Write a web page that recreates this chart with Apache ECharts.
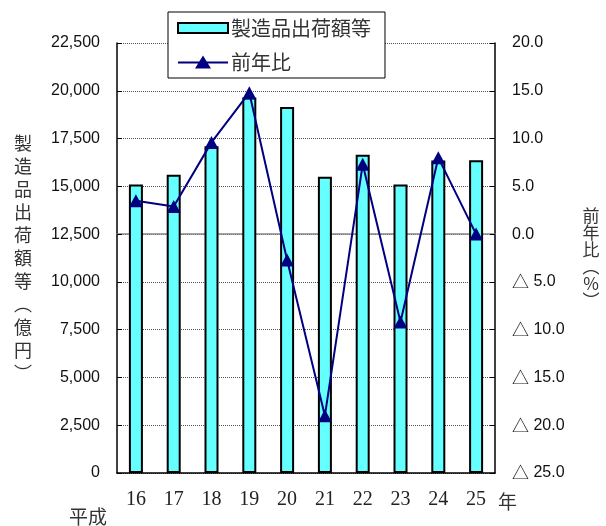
<!DOCTYPE html>
<html>
<head>
<meta charset="utf-8">
<script src="https://cdn.jsdelivr.net/npm/echarts@6/dist/echarts.min.js"></script>
<style>
  html, body { margin: 0; padding: 0; background: #fff; }
  #chart { width: 606px; height: 526px; }
</style>
</head>
<body>
<div id="chart"></div>
<script>
// 平成16年〜25年
var years = ['16', '17', '18', '19', '20', '21', '22', '23', '24', '25'];
// 製造品出荷額等（億円）
var shipments = [15100, 15600, 17100, 19650, 19150, 15500, 16650, 15100, 16350, 16370];
// 前年比（%）
var yoy = [3.5, 2.9, 9.6, 14.8, -2.7, -19.0, 7.3, -9.2, 8.0, 0.0];

var jpFont = '"Noto Sans CJK JP", sans-serif';
var numFont = '"Liberation Sans", Arial, sans-serif';
var myChart = echarts.init(document.getElementById('chart'));

var option = {
    animation: false,
    backgroundColor: '#fff',
    grid: { left: 117, right: 111, top: 43, bottom: 53 },
    legend: {
        left: 168,
        top: 12,
        orient: 'vertical',
        backgroundColor: '#fff',
        borderColor: '#000',
        borderWidth: 1,
        padding: [6, 14, 6, 9],
        itemWidth: 50,
        itemHeight: 13,
        itemGap: 14,
        textStyle: { fontFamily: jpFont, fontSize: 20, color: '#333', lineHeight: 20, padding: [0, 0, 0, -2] },
        data: [
            { name: '製造品出荷額等', icon: 'path://M0,1.5H50V11.5H0Z' },
            { name: '前年比', icon: 'path://M0,6H21.3L25,0L28.7,6H50V8H29.9L33,13H17L20.1,8H0Z' }
        ],
        z: 10
    },
    xAxis: [{
        type: 'category',
        data: years,
        axisLine: { lineStyle: { color: '#000', width: 1.5 } },
        axisTick: { inside: true, length: 5, lineStyle: { color: '#000' } },
        axisLabel: { margin: 17, fontFamily: '"Liberation Serif", serif', fontSize: 20, color: '#222' }
    }, {
        type: 'category',
        data: years,
        position: 'top',
        axisLine: { lineStyle: { color: '#888', width: 1.5 } },
        axisTick: { show: false },
        axisLabel: { show: false }
    }],
    yAxis: [{
        type: 'value',
        min: 0,
        max: 22500,
        interval: 2500,
        name: '製\n造\n品\n出\n荷\n額\n等\n︵\n億\n円\n︶',
        nameLocation: 'middle',
        nameRotate: 0,
        nameGap: 94,
        nameTextStyle: { fontFamily: jpFont, fontSize: 18, color: '#333', lineHeight: 23, align: 'center', padding: [0, 0, 26, 0] },
        axisLine: { show: true, lineStyle: { color: '#000', width: 1.5 } },
        axisTick: { show: true, inside: true, length: 5, lineStyle: { color: '#000' } },
        axisLabel: {
            margin: 17,
            fontFamily: numFont,
            fontSize: 16,
            color: '#111',
            formatter: function (v) { return v.toLocaleString('en-US'); }
        },
        splitLine: { show: true, lineStyle: { color: '#555', type: 'dotted', width: 1 } }
    }, {
        type: 'value',
        min: -25,
        max: 20,
        interval: 5,
        name: '前\n年\n比\n︵\n%\n︶',
        nameLocation: 'middle',
        nameRotate: 0,
        nameGap: 96,
        nameTextStyle: { fontFamily: jpFont, fontSize: 17, color: '#333', lineHeight: 17, align: 'center', padding: [0, 0, 44, 0] },
        axisLine: { show: true, lineStyle: { color: '#000', width: 1.5 } },
        axisTick: { show: true, inside: true, length: 5, lineStyle: { color: '#000' } },
        axisLabel: {
            margin: 17,
            fontFamily: numFont,
            fontSize: 16,
            color: '#111',
            formatter: function (v) {
                return v < 0 ? '{tri|△}' + ' ' + Math.abs(v).toFixed(1) : v.toFixed(1);
            },
            rich: {
                tri: { fontFamily: jpFont, fontSize: 17, color: '#111' }
            }
        },
        splitLine: { show: false }
    }],
    graphic: [
        { type: 'text', left: 498, top: 492, style: { text: '年', fontFamily: jpFont, fontSize: 19, fill: '#333' } },
        { type: 'text', left: 69, top: 507, style: { text: '平成', fontFamily: jpFont, fontSize: 19, fill: '#333' } }
    ],
    series: [{
        name: '製造品出荷額等',
        type: 'bar',
        data: shipments,
        barWidth: 14,
        itemStyle: { color: '#66FFFF', borderColor: '#000', borderWidth: 2 }
    }, {
        name: '前年比',
        type: 'line',
        yAxisIndex: 1,
        data: yoy,
        symbol: 'triangle',
        symbolSize: [14, 13],
        lineStyle: { color: '#000080', width: 2 },
        itemStyle: { color: '#000080' },
        z: 5
    }]
};

myChart.setOption(option);
</script>
</body>
</html>
